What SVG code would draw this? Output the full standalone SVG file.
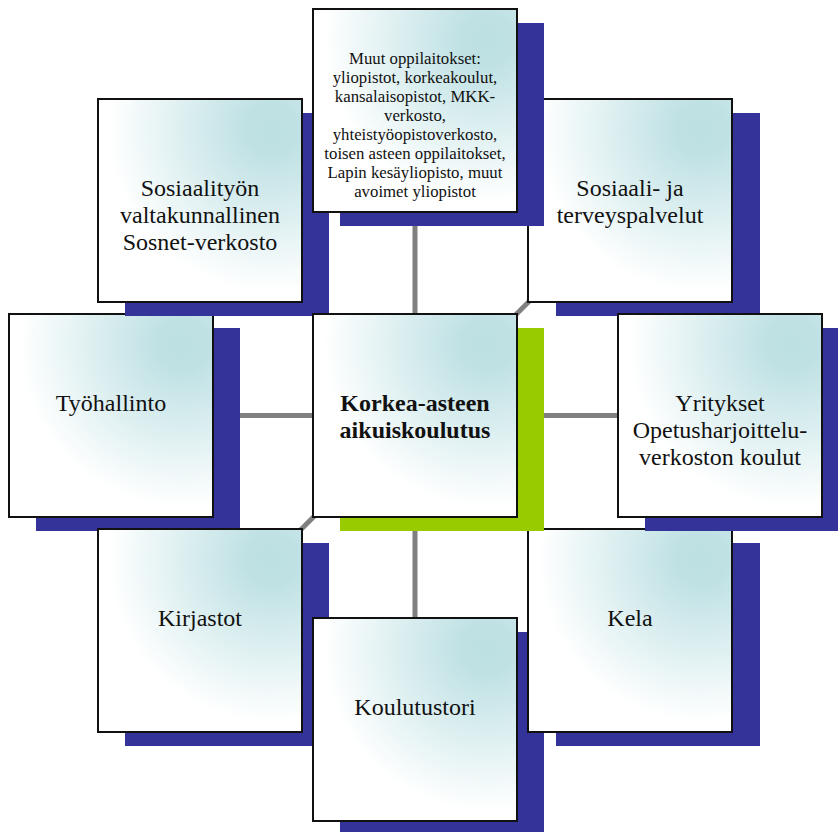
<svg xmlns="http://www.w3.org/2000/svg" width="838" height="832" viewBox="0 0 838 832">
<defs>
<radialGradient id="g" cx="0.85" cy="0.15" r="0.8">
<stop offset="0" stop-color="#bde0e3"/>
<stop offset="0.15" stop-color="#bfe1e4"/>
<stop offset="1" stop-color="#ffffff"/>
</radialGradient>
<style>
.box{fill:url(#g);stroke:#111;stroke-width:2}
.sh{fill:#333399}
.shg{fill:#99cc00}
.t{font-family:"Liberation Serif","Times New Roman",serif;font-size:24px;fill:#111;text-anchor:middle}
.s{font-family:"Liberation Serif","Times New Roman",serif;font-size:16.8px;fill:#111;text-anchor:middle}
.b{font-weight:bold}
.c{stroke:#808080;stroke-width:5;fill:none}
</style>
</defs>
<rect width="838" height="832" fill="#fff"/>
<g id="connectors">
<line class="c" x1="415" y1="415.5" x2="415" y2="110"/>
<line class="c" x1="415" y1="415.5" x2="415" y2="720"/>
<line class="c" x1="415" y1="415.5" x2="110" y2="415.5"/>
<line class="c" x1="415" y1="415.5" x2="720" y2="415.5"/>
<line class="c" x1="415" y1="415.5" x2="200" y2="200.5"/>
<line class="c" x1="415" y1="415.5" x2="630" y2="200.5"/>
<line class="c" x1="415" y1="415.5" x2="200" y2="630.5"/>
<line class="c" x1="415" y1="415.5" x2="630" y2="630.5"/>
</g>
<g id="node-tyohallinto">
<rect class="sh" x="36" y="328" width="204" height="203"/>
<rect class="box" x="9" y="314" width="204" height="203"/>
<text class="t" x="111" y="411">Työhallinto</text>
</g>
<g id="node-sosiaalityon">
<rect class="sh" x="125" y="113" width="204" height="203"/>
<rect class="box" x="98" y="99" width="204" height="203"/>
<text class="t" x="200" y="196">Sosiaalityön</text>
<text class="t" x="200" y="223">valtakunnallinen</text>
<text class="t" x="200" y="250">Sosnet-verkosto</text>
</g>
<g id="node-sosiaali">
<rect class="sh" x="556" y="113" width="204" height="203"/>
<rect class="box" x="528" y="99" width="204" height="203"/>
<text class="t" x="630" y="196">Sosiaali- ja</text>
<text class="t" x="630" y="223">terveyspalvelut</text>
</g>
<g id="node-muut">
<rect class="sh" x="340" y="23" width="204" height="203"/>
<rect class="box" x="313" y="9" width="204" height="203"/>
<text class="s" x="415" y="64">Muut oppilaitokset:</text>
<text class="s" x="415" y="83">yliopistot, korkeakoulut,</text>
<text class="s" x="415" y="102">kansalaisopistot, MKK-</text>
<text class="s" x="415" y="121">verkosto,</text>
<text class="s" x="415" y="140">yhteistyöopistoverkosto,</text>
<text class="s" x="415" y="159">toisen asteen oppilaitokset,</text>
<text class="s" x="415" y="178">Lapin kesäyliopisto, muut</text>
<text class="s" x="415" y="197">avoimet yliopistot</text>
</g>
<g id="node-kirjastot">
<rect class="sh" x="125" y="543" width="204" height="203"/>
<rect class="box" x="98" y="529" width="204" height="203"/>
<text class="t" x="200" y="626">Kirjastot</text>
</g>
<g id="node-koulutustori">
<rect class="sh" x="340" y="632" width="204" height="203"/>
<rect class="box" x="313" y="618" width="204" height="203"/>
<text class="t" x="415" y="715">Koulutustori</text>
</g>
<g id="node-kela">
<rect class="sh" x="556" y="543" width="204" height="203"/>
<rect class="box" x="528" y="529" width="204" height="203"/>
<text class="t" x="630" y="626">Kela</text>
</g>
<g id="node-yritykset">
<rect class="sh" x="645" y="328" width="204" height="203"/>
<rect class="box" x="618" y="314" width="204" height="203"/>
<text class="t" x="720" y="411">Yritykset</text>
<text class="t" x="720" y="438">Opetusharjoittelu-</text>
<text class="t" x="720" y="465">verkoston koulut</text>
</g>
<g id="node-center">
<rect class="shg" x="340" y="328" width="204" height="203"/>
<rect class="box" x="313" y="314" width="204" height="203"/>
<text class="t b" x="415" y="411">Korkea-asteen</text>
<text class="t b" x="415" y="438">aikuiskoulutus</text>
</g>
</svg>
